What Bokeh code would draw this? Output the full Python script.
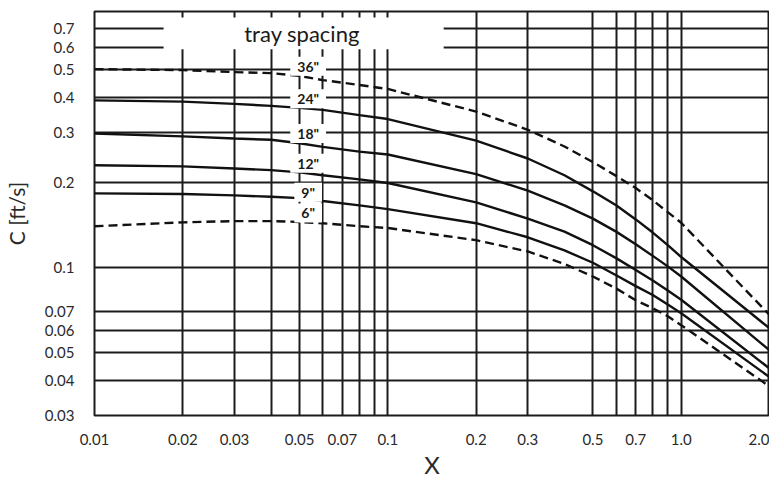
from bokeh.plotting import figure
from bokeh.models import (FixedTicker, CustomJSTickFormatter, Range1d,
                          BoxAnnotation, Label, ColumnDataSource)
from bokeh.core.properties import value
from bokeh.embed import file_html
from bokeh.resources import INLINE

# Flow parameter X at which each curve was read
x_vals = [0.01, 0.02, 0.03, 0.04, 0.05, 0.06, 0.08, 0.1, 0.2, 0.3, 0.4,
          0.5, 0.6, 0.7, 0.8, 0.9, 1.0, 2.0]

# Capacity parameter C [ft/s] for each tray spacing
c_36 = [0.503, 0.499, 0.491, 0.487, 0.476, 0.460, 0.442, 0.428, 0.356, 0.307,
        0.268, 0.236, 0.211, 0.191, 0.173, 0.157, 0.144, 0.068]
c_24 = [0.390, 0.386, 0.379, 0.373, 0.367, 0.361, 0.346, 0.335, 0.281, 0.243,
        0.212, 0.186, 0.166, 0.148, 0.133, 0.120, 0.109, 0.061]
c_18 = [0.298, 0.291, 0.286, 0.283, 0.275, 0.267, 0.257, 0.251, 0.214, 0.187,
        0.166, 0.149, 0.134, 0.121, 0.110, 0.101, 0.093, 0.051]
c_12 = [0.230, 0.228, 0.224, 0.221, 0.217, 0.212, 0.205, 0.199, 0.170, 0.149,
        0.134, 0.120, 0.108, 0.098, 0.090, 0.083, 0.077, 0.044]
c_9 = [0.183, 0.182, 0.180, 0.178, 0.176, 0.172, 0.166, 0.161, 0.1435, 0.128,
       0.115, 0.104, 0.094, 0.086, 0.080, 0.074, 0.069, 0.041]
c_6 = [0.140, 0.1445, 0.146, 0.146, 0.145, 0.1435, 0.140, 0.138, 0.125, 0.114,
       0.103, 0.093, 0.0844, 0.0766, 0.0718, 0.0673, 0.0626, 0.038]

spacing_labels = ['36"', '24"', '18"', '12"', '9"', '6"']
dashed_spacings = {'36"', '6"'}

# Axis tick labels and grid line positions
x_tick_labels = [0.01, 0.02, 0.03, 0.05, 0.07, 0.1, 0.2, 0.3, 0.5, 0.7, 1.0, 2.0]
y_tick_labels = [0.03, 0.04, 0.05, 0.06, 0.07, 0.1, 0.2, 0.3, 0.4, 0.5, 0.6, 0.7]
x_grid_lines = [0.02, 0.03, 0.04, 0.05, 0.06, 0.07, 0.08, 0.09, 0.1, 0.2, 0.3,
                0.5, 0.6, 0.7, 0.8, 0.9, 1.0]
y_grid_lines = [0.04, 0.05, 0.06, 0.07, 0.1, 0.2, 0.3, 0.4, 0.5, 0.6, 0.7]

# Where the spacing labels sit in the label column
label_x = [0.0535, 0.0535, 0.0535, 0.0535, 0.0535, 0.0535]
label_y = [0.515, 0.395, 0.298, 0.2336, 0.1848, 0.156]

INK = "#1c1c1c"
FONT = "Lato"

p = figure(width=769, height=481, x_axis_type="log", y_axis_type="log",
           x_range=Range1d(0.01, 2.0), y_range=Range1d(0.03, 0.804),
           output_backend="svg", toolbar_location=None,
           min_border_left=93, min_border_right=0, min_border_top=11,
           min_border_bottom=63)
p.background_fill_color = "white"
p.border_fill_color = "white"
p.outline_line_color = INK
p.outline_line_width = 2

# grid
p.xgrid.ticker = FixedTicker(ticks=x_grid_lines)
p.ygrid.ticker = FixedTicker(ticks=y_grid_lines)
for g in (p.xgrid, p.ygrid):
    g.grid_line_color = INK
    g.grid_line_width = 2
    g.minor_grid_line_color = None

fmt = CustomJSTickFormatter(code="return tick >= 1 ? tick.toFixed(1) : tick.toString();")
p.xaxis.ticker = FixedTicker(ticks=x_tick_labels)
p.yaxis.ticker = FixedTicker(ticks=y_tick_labels)
for ax in (p.xaxis, p.yaxis):
    ax.formatter = fmt
    ax.axis_line_color = None
    ax.major_tick_line_color = None
    ax.minor_tick_line_color = None
    ax.major_label_text_font = FONT
    ax.major_label_text_font_size = "15px"
    ax.major_label_text_color = "#2a2a2a"
    ax.axis_label_text_font = FONT
    ax.axis_label_text_font_style = "normal"
    ax.axis_label_text_color = "#2a2a2a"
p.xaxis.major_label_standoff = 12
p.yaxis.major_label_standoff = 14
p.xaxis.axis_label = "X"
p.xaxis.axis_label_text_font_size = "24px"
p.xaxis.axis_label_standoff = 2
p.yaxis.axis_label = "C [ft/s]"
p.yaxis.axis_label_text_font_size = "21px"
p.yaxis.axis_label_standoff = 13

# white panel behind the title text, masking the grid there
p.add_layout(BoxAnnotation(left=0.0172, right=0.155, bottom=0.591, top=0.766,
                           fill_color="white", fill_alpha=1.0, line_color=None,
                           level="glyph"))

curves = [c_36, c_24, c_18, c_12, c_9, c_6]
for name, cv in zip(spacing_labels, curves):
    src = ColumnDataSource(dict(x=x_vals, y=cv))
    kw = dict(line_color="#111111", line_width=2.4)
    if name in dashed_spacings:
        kw["line_dash"] = "9 5"
    p.line("x", "y", source=src, **kw)

lab_src = ColumnDataSource(dict(x=label_x, y=label_y, t=spacing_labels))
p.text("x", "y", text="t", source=lab_src, text_align="center",
       text_baseline="middle", text_font=value(FONT), text_font_style="bold",
       text_font_size=value("14px"), text_color="#1a1a1a",
       background_fill_color="white", padding=(7, 1))

p.add_layout(Label(x=0.051, y=0.673, text="tray spacing", text_align="center",
                   text_baseline="middle", text_font=FONT,
                   text_font_size="22px", text_color="#1a1a1a"))

open("out.html", "w").write(file_html(p, INLINE))
